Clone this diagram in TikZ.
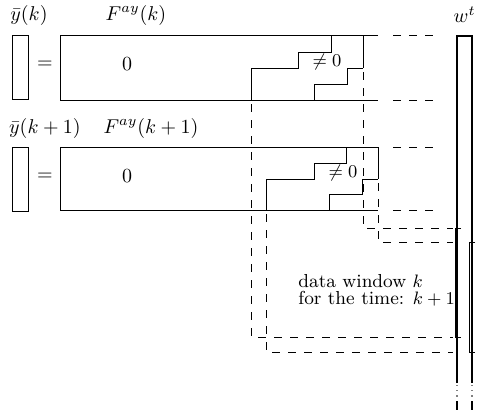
\documentclass[tikz,border=0pt]{standalone}
\begin{document}
\begin{tikzpicture}[x=0.5pt,y=-0.5pt,
  solidln/.style={line width=0.5pt},
  dashln/.style={line width=0.45pt, dash pattern=on 4pt off 4pt},
  rowdash/.style={line width=0.5pt, dash pattern=on 4pt off 4pt},
  vecln/.style={line width=0.85pt},
  vbox/.style={draw, line width=0.5pt, minimum width=8pt, minimum height=32pt, inner sep=0pt},
  lbl/.style={inner sep=0pt, font=\fontsize{10}{12}\selectfont},
  small/.style={inner sep=0pt, font=\fontsize{9}{11}\selectfont},
  txt/.style={inner sep=0pt, align=left, font=\fontsize{9.4}{8.6}\selectfont},
]
\useasboundingbox (0,0) rectangle (477,412);

% ---------- labels ----------
\node[lbl] (ylab1) at (29,15) {$\bar{y}(k)$};
\node[lbl] (Flab1) at (136,15) {$F^{ay}(k)$};
\node[lbl] (ylab2) at (45,128) {$\bar{y}(k+1)$};
\node[lbl] (Flab2) at (151,128) {$F^{ay}(k+1)$};
\node[lbl, anchor=east] (wlab) at (476,15) {$w^t$};

% ---------- vectors y ----------
\node[vbox] (v1) at (20,67.5) {};
\node[vbox] (v2) at (20,179) {};
\node[lbl] (eq1) at (45,65) {$=$};
\node[lbl] (eq2) at (45,177) {$=$};
\node[lbl] (z1) at (127,64) {$0$};
\node[lbl] (z2) at (127,176) {$0$};
\node[small] (nz1) at (327,62) {$\neq 0$};
\node[small] (nz2) at (343,173) {$\neq 0$};

% ---------- matrix F(k) ----------
\coordinate (m1tl) at (60,35);  \coordinate (m1tr) at (378,35);
\coordinate (m1bl) at (60,100); \coordinate (m1br) at (378,100);
\draw[solidln] (m1tr) -- (m1tl) -- (m1bl) -- (m1br);
\draw[solidln] (251,100) -- (251,68) -- (298,68) -- (298,52) -- (331,52) -- (331,35);
\draw[solidln] (314,100) -- (314,84) -- (347,84) -- (347,68) -- (363,68);
\draw[solidln] (363,35) -- (363,68);
\draw[rowdash] (393,35) -- (435,35);
\draw[rowdash] (393,100) -- (435,100);

% ---------- matrix F(k+1) ----------
\coordinate (m2tl) at (60,147);  \coordinate (m2tr) at (378,147);
\coordinate (m2bl) at (60,210);  \coordinate (m2br) at (378,210);
\draw[solidln] (m2tr) -- (m2tl) -- (m2bl) -- (m2br);
\draw[solidln] (266,210) -- (266,179) -- (314,179) -- (314,163) -- (346,163) -- (346,147);
\draw[solidln] (329,210) -- (329,194) -- (362,194) -- (362,179) -- (378,179);
\draw[solidln] (378,147) -- (378,179);
\draw[rowdash] (393,147) -- (435,147);
\draw[rowdash] (393,210) -- (435,210);

% ---------- data windows (dashed) ----------
\coordinate (a1) at (363,72);  \coordinate (a1c) at (363,228); \coordinate (a1e) at (453,228);
\coordinate (b1) at (251,104); \coordinate (b1c) at (251,337); \coordinate (b1e) at (453,337);
\coordinate (a2) at (378,183); \coordinate (a2c) at (378,242); \coordinate (a2e) at (453,242);
\coordinate (b2) at (266,214); \coordinate (b2c) at (266,352); \coordinate (b2e) at (453,352);
\draw[dashln] (a1) -- (a1c) -- (a1e);
\draw[dashln] (b1) -- (b1c) -- (b1e);
\draw[dashln] (a2) -- (a2c) -- (a2e);
\draw[dashln] (b2) -- (b2c) -- (b2e);

\node[txt, anchor=north west] (dw) at (298,274) {data window $k$\\for the time: $k+1$};

% ---------- vector w ----------
\draw[vecln] (457,383) -- (457,36) -- (472,36) -- (472,383);
\draw[line width=0.6pt, dotted, gray] (457,385) -- (457,398);
\draw[line width=0.6pt, dotted, gray] (472,385) -- (472,398);
\draw[line width=1.3pt] (457,401) -- (457,410);
\draw[line width=1.3pt] (472,401) -- (472,410);
% window markers on w
\draw[solidln] (461,228) -- (455,228) -- (455,337) -- (461,337);
\draw[solidln] (475,242) -- (469,242) -- (469,352) -- (475,352);
\end{tikzpicture}
\end{document}
